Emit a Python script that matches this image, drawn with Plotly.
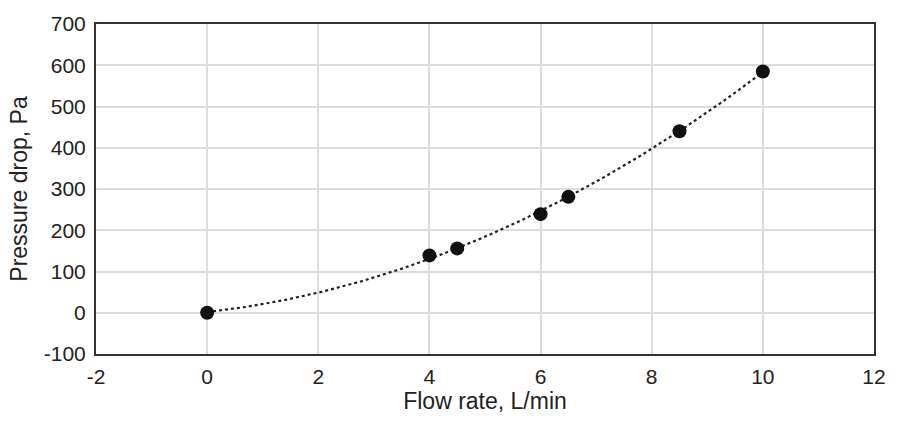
import numpy as np
import plotly.graph_objects as go

flow = [0, 4, 4.5, 6, 6.5, 8.5, 10]
dp = [0, 139, 156, 239, 281, 440, 585]

x_ticks = [-2, 0, 2, 4, 6, 8, 10, 12]
x_tick_labels = ["-2", "0", "2", "4", "6", "8", "10", "12"]
y_ticks = [-100, 0, 100, 200, 300, 400, 500, 600, 700]
y_tick_labels = ["-100", "0", "100", "200", "300", "400", "500", "600", "700"]

# polynomial (2nd order) trendline fitted to the data
coef = np.polyfit(flow, dp, 2)
xt = np.linspace(min(flow), max(flow), 200)
yt = np.polyval(coef, xt)

fig = go.Figure()
fig.add_trace(go.Scatter(x=xt, y=yt, mode="lines",
                         line=dict(color="#222222", width=2.2, dash="dot"),
                         hoverinfo="skip", showlegend=False))
fig.add_trace(go.Scatter(x=flow, y=dp, mode="markers",
                         marker=dict(color="#111111", size=14),
                         showlegend=False))

fam = "Liberation Sans, Arial, sans-serif"
tick_font = dict(family=fam, size=21, color="#222222")
title_font = dict(family=fam, size=23, color="#222222")
fig.update_layout(
    width=898, height=422,
    margin=dict(l=96, r=18, t=16, b=68),
    plot_bgcolor="white", paper_bgcolor="white",
    font=tick_font,
)
fig.update_xaxes(range=[-2, 12], tickmode="array", tickvals=x_ticks, ticktext=x_tick_labels,
                 showgrid=True, gridcolor="#dddddd",
                 gridwidth=1.5, zeroline=False, showline=True, linecolor="#333333",
                 linewidth=2, mirror=True, ticks="outside", ticklen=3,
                 tickcolor="rgba(0,0,0,0)",
                 title=dict(text="Flow rate, L/min", font=title_font, standoff=6),
                 tickfont=tick_font)
fig.update_yaxes(range=[-100, 700], tickmode="array", tickvals=y_ticks, ticktext=y_tick_labels,
                 showgrid=True, gridcolor="#dddddd",
                 gridwidth=1.5, zeroline=False, showline=True, linecolor="#333333",
                 linewidth=2, mirror=True, ticks="outside", ticklen=4,
                 tickcolor="rgba(0,0,0,0)",
                 title=dict(text="Pressure drop, Pa", font=title_font, standoff=10),
                 tickfont=tick_font)
fig.write_html("out.html")
